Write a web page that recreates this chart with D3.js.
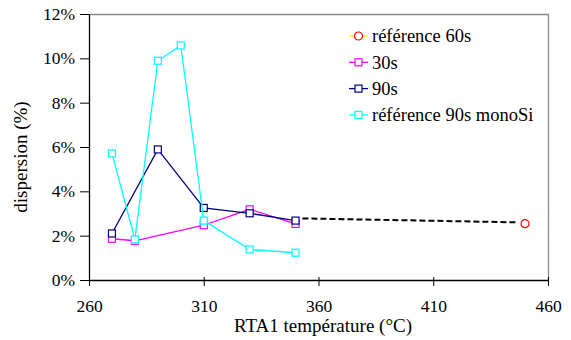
<!DOCTYPE html>
<html>
<head>
<meta charset="utf-8">
<script src="https://cdnjs.cloudflare.com/ajax/libs/d3/7.8.5/d3.min.js"></script>
<style>
  body { margin: 0; background: #fff; }
</style>
</head>
<body>
<div id="chart"></div>
<script>
'use strict';

// values (x: RTA1 temperature in °C, y: dispersion in %)
var ref60X = [450],
    ref60Y = [2.54];

var s30X = [270, 280, 310, 330, 350],
    s30Y = [1.86, 1.77, 2.47, 3.19, 2.53];

var s90X = [270, 290, 310, 330, 350],
    s90Y = [2.1, 5.89, 3.25, 3.01, 2.68];

var monoX = [270, 280, 290, 300, 310, 330, 350],
    monoY = [5.71, 1.83, 9.89, 10.58, 2.68, 1.38, 1.23];

var trendX = [353, 447],
    trendY = [2.78, 2.6];

var xTicks = [260, 310, 360, 410, 460],
    yTicks = [0, 2, 4, 6, 8, 10, 12];

var series = [
    { name: 'référence 60s', line: '#ffff00', marker: '#ff0000', shape: 'circle', xs: ref60X, ys: ref60Y },
    { name: '30s', line: '#ff00ff', marker: '#ff00ff', shape: 'square', xs: s30X, ys: s30Y },
    { name: '90s', line: '#000080', marker: '#000080', shape: 'square', xs: s90X, ys: s90Y },
    { name: 'référence 90s monoSi', line: '#00ffff', marker: '#00ffff', shape: 'square', xs: monoX, ys: monoY }
];

var FONT = '"Liberation Serif", "DejaVu Serif", "Times New Roman", serif';

var width = 571,
    height = 340,
    margin = { top: 14, right: 23, bottom: 60, left: 89 },
    plotW = width - margin.left - margin.right,
    plotH = height - margin.top - margin.bottom;

var svg = d3.select('#chart').append('svg')
            .attr('width', width)
            .attr('height', height)
            .attr('font-family', FONT);

var g = svg.append('g')
           .attr('transform', 'translate(' + margin.left + ',' + margin.top + ')');

var x = d3.scaleLinear().domain([260, 460]).range([0, plotW]),
    y = d3.scaleLinear().domain([0, 12]).range([plotH, 0]);

// top and right frame in gray
g.append('path')
 .attr('d', 'M0,0.5H' + (plotW + 0.5) + 'V' + plotH)
 .attr('fill', 'none')
 .attr('stroke', '#888')
 .attr('stroke-width', 1.3);

var xAxis = g.append('g')
             .attr('transform', 'translate(0,' + plotH + ')')
             .call(d3.axisBottom(x).tickValues(xTicks).tickSizeInner(6).tickSizeOuter(0).tickPadding(14).tickFormat(d3.format('d')));

// excel style: x ticks cross the axis line
xAxis.selectAll('.tick line').attr('y1', -3);

var yAxis = g.append('g')
             .call(d3.axisLeft(y).tickValues(yTicks).tickSizeInner(9).tickSizeOuter(0).tickPadding(5).tickFormat(function (d) { return d + '%'; }));

[xAxis, yAxis].forEach(function (ax) {
    ax.attr('font-family', FONT).attr('font-size', 17.5);
    ax.selectAll('text').attr('fill', '#000');
    ax.selectAll('line, path').attr('stroke', '#000');
    ax.select('.domain').attr('stroke-width', 1.3);
});

// axis titles
svg.append('text')
   .attr('x', 323)
   .attr('y', 332)
   .attr('text-anchor', 'middle')
   .attr('font-size', 19)
   .text('RTA1 température (°C)');

svg.append('text')
   .attr('transform', 'translate(27,157) rotate(-90)')
   .attr('text-anchor', 'middle')
   .attr('font-size', 19)
   .text('dispersion (%)');

var line = d3.line()
             .x(function (d) { return x(d[0]); })
             .y(function (d) { return y(d[1]); });

function drawMarker(sel, shape, color) {
    if (shape === 'circle')
    {
        sel.append('circle')
           .attr('r', 4)
           .attr('fill', '#fff')
           .attr('stroke', color)
           .attr('stroke-width', 1.2);
    }
    else
    {
        sel.append('rect')
           .attr('x', -3.5).attr('y', -3.5)
           .attr('width', 7).attr('height', 7)
           .attr('fill', '#fff')
           .attr('stroke', color)
           .attr('stroke-width', 1.2);
    }
}

// dashed extrapolation line
g.append('path')
 .datum(d3.zip(trendX, trendY))
 .attr('d', line)
 .attr('fill', 'none')
 .attr('stroke', '#000')
 .attr('stroke-width', 2)
 .attr('stroke-dasharray', '6,3');

series.forEach(function (s) {
    var pts = d3.zip(s.xs, s.ys);

    g.append('path')
     .datum(pts)
     .attr('d', line)
     .attr('fill', 'none')
     .attr('stroke', s.line)
     .attr('stroke-width', 1.3);

    g.selectAll(null)
     .data(pts)
     .enter()
     .append('g')
     .attr('transform', function (d) { return 'translate(' + x(d[0]) + ',' + y(d[1]) + ')'; })
     .call(drawMarker, s.shape, s.marker);
});

// legend
var legend = svg.append('g').attr('transform', 'translate(349,36)');

series.forEach(function (s, i) {
    var item = legend.append('g').attr('transform', 'translate(0,' + (i * 26.3) + ')');

    item.append('line')
        .attr('x1', 0).attr('x2', 19)
        .attr('stroke', s.line)
        .attr('stroke-width', 1.3);

    item.append('g')
        .attr('transform', 'translate(9.5,0)')
        .call(drawMarker, s.shape, s.marker);

    item.append('text')
        .attr('x', 23)
        .attr('dy', '0.35em')
        .attr('font-size', 18.5)
        .text(s.name);
});
</script>
</body>
</html>
